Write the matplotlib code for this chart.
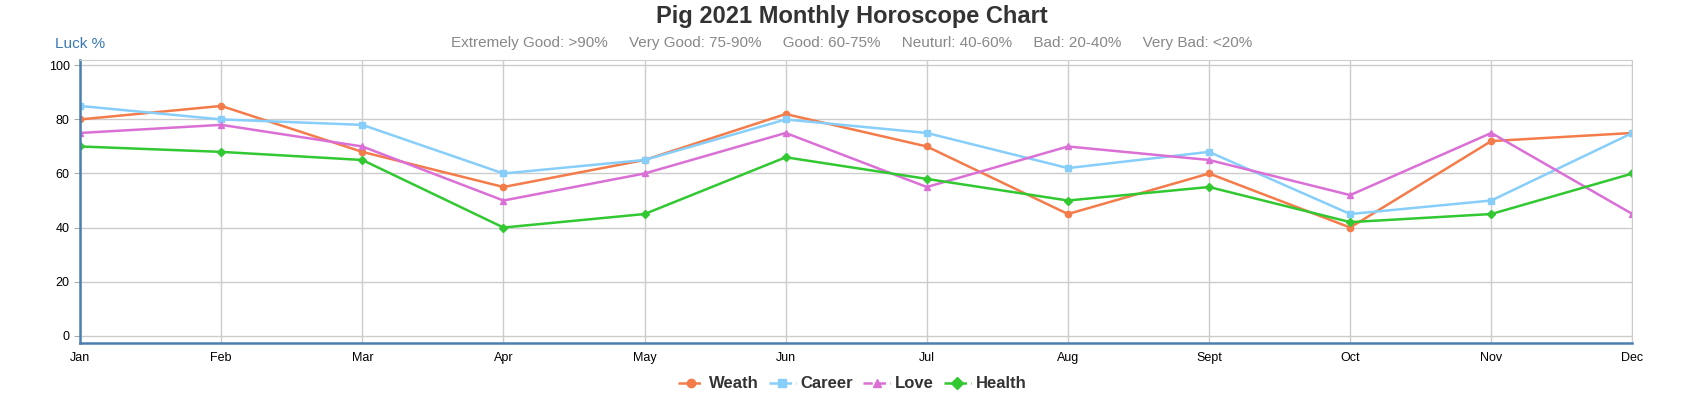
import matplotlib
matplotlib.use("Agg")
import matplotlib.pyplot as plt
from matplotlib.lines import Line2D

months = ["Jan","Feb","Mar","Apr","May","Jun","Jul","Aug","Sept","Oct","Nov","Dec"]
wealth = [80,85,68,55,65,82,70,45,60,40,72,75]
career = [85,80,78,60,65,80,75,62,68,45,50,75]
love = [75,78,70,50,60,75,55,70,65,52,75,45]
health = [70,68,65,40,45,66,58,50,55,42,45,60]
series = [("Weath", wealth, "#f47c4a", "o"), ("Career", career, "#87cefa", "s"),
          ("Love", love, "#da70d6", "^"), ("Health", health, "#32c832", "D")]

plt.rcParams['font.family'] = ['Liberation Sans', 'DejaVu Sans']
fig = plt.figure(figsize=(17.04, 4.0), dpi=100)
ax = fig.add_axes([0.047, 0.142, 0.911, 0.708])
x = list(range(len(months)))
handles = []
for name, vals, c, m in series:
    ax.plot(x, vals, color=c, lw=1.8, marker=m, ms=4.5)
    handles.append(Line2D([], [], color=c, lw=1.8, ls='--', marker=m, ms=6))
ax.set_xlim(0, 11)
ax.set_ylim(-2.8, 102)
ax.set_yticks([0,20,40,60,80,100])
ax.set_xticks(x)
ax.set_xticklabels(months, fontsize=9)
ax.tick_params(axis='y', labelsize=9, length=4, color='#aaa')
ax.tick_params(axis='x', length=0, pad=6)
ax.grid(True, color='#cccccc', lw=1)
for s in ['top','right']:
    ax.spines[s].set_color('#cccccc')
ax.spines['left'].set_color('#4a7fb0'); ax.spines['left'].set_linewidth(1.8)
ax.spines['bottom'].set_color('#4a7fb0'); ax.spines['bottom'].set_linewidth(1.8)

fig.text(0.5, 0.96, "Pig 2021 Monthly Horoscope Chart", ha='center', va='center',
         fontsize=17, fontweight='bold', color='#333333')
fig.text(0.032, 0.89, "Luck %", ha='left', va='center', fontsize=11, color='#3a78b5')
fig.text(0.5, 0.893, "Extremely Good: >90%     Very Good: 75-90%     Good: 60-75%     Neuturl: 40-60%     Bad: 20-40%     Very Bad: <20%",
         ha='center', va='center', fontsize=11, color='#888888')
fig.legend(handles, [s[0] for s in series], loc='center', bbox_to_anchor=(0.5, 0.04),
           ncol=4, frameon=False, prop={'size': 12, 'weight': 'bold'},
           handlelength=1.6, handletextpad=0.3, columnspacing=0.6, labelcolor='#333333')
fig.savefig("out.png", dpi=100)
